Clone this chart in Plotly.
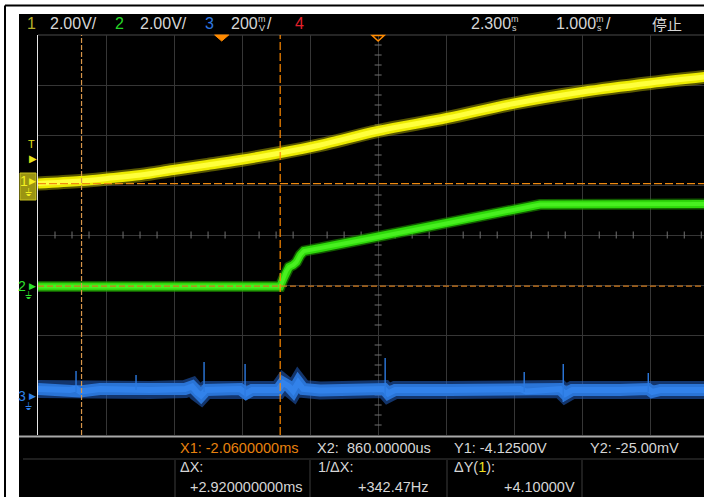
import plotly.graph_objects as go

# ---- acquisition settings -------------------------------------------------
ch_scale = [2.0, 2.0, 0.2]        # volts per division, channels 1..3
ch_pos = [1.04, -1.03, -3.24]     # ground marker, divisions above screen centre
time_scale = 1.0                  # ms per division
time_delay = 2.3                  # ms at screen centre
trigger_time = 0.0                # ms
trigger_level = 1.0               # V on channel 1

# ---- cursors --------------------------------------------------------------
cur_x1, cur_x2 = -2.06, 0.86      # ms
cur_y1, cur_y2 = -4.125, -0.025   # V (channel 1)

# ---- channel 1 (yellow) ---------------------------------------------------
ch1_t = [-2.7, -2.08, -1.68, -1.19, -0.71, -0.21, 0.27, 0.86, 1.45, 2.3,
         3.31, 4.3, 5.3, 6.31, 7.1]
ch1_v = [-0.02, 0.08, 0.18, 0.32, 0.52, 0.72, 0.92, 1.2, 1.52, 2.08,
         2.6, 3.18, 3.64, 4.0, 4.24]

# ---- channel 2 (green) ----------------------------------------------------
ch2_t = [-2.7, 0.86, 0.905, 0.95, 0.99, 1.05, 1.10, 1.155, 1.21, 1.45,
         2.3, 3.3, 4.09, 4.68, 7.1]
ch2_v = [0.0, 0.0, 0.3, 0.62, 0.78, 0.86, 0.98, 1.26, 1.42, 1.54,
         1.98, 2.52, 2.96, 3.28, 3.3]

# ---- channel 3 (blue) -----------------------------------------------------
ch3_t = [-2.7, -2.229, -2.141, -2.082, -1.788, -1.053, -0.538, -0.435, -0.362,
         -0.303, -0.229, 0.124, 0.271, 0.359, 0.447, 0.829, 0.903, 0.991, 1.05,
         1.124, 1.197, 1.447, 2.035, 2.388, 2.447, 2.55, 3.359, 4.388, 4.476,
         4.682, 4.976, 5.05, 5.153, 5.859, 6.271, 6.329, 6.447, 7.1]
ch3_v = [0.032, 0.028, 0.034, 0.022, 0.032, 0.028, 0.032, 0.042, 0.018,
         0.006, 0.028, 0.028, 0.032, 0.014, 0.028, 0.028, 0.056, 0.042, 0.024,
         0.058, 0.032, 0.026, 0.028, 0.032, 0.014, 0.028, 0.028, 0.032, 0.022,
         0.028, 0.032, 0.012, 0.028, 0.028, 0.032, 0.020, 0.028, 0.028]
glitch_t = [-2.141, -1.259, -0.259, 0.344, 2.403, 4.447, 5.021, 6.271]
glitch_hi = [0.104, 0.088, 0.140, 0.132, 0.156, 0.100, 0.132, 0.096]
glitch_lo = [0.020, 0.028, 0.020, -0.004, -0.004, 0.020, -0.020, 0.020]

# ---- screen geometry ------------------------------------------------------
W, H = 704, 497
L, T, B = 38, 35, 62
PW, PH = W - L, H - T - B


def px(x):
    return (x - L) / PW


def py(y):
    return (H - B - y) / PH


def ch_range(i):
    return [(-4 - ch_pos[i]) * ch_scale[i], (4 - ch_pos[i]) * ch_scale[i]]


x_range = [time_delay - 5 * time_scale, time_delay + 4.79 * time_scale]
r1 = ch_range(0)

FONT = "Liberation Sans, Arial, sans-serif"
GRID = "#363636"
TXT = "#d6d6d6"

fig = go.Figure()


def band(t, v, axis, colors, widths, shape="linear"):
    for c, w in zip(colors, widths):
        fig.add_trace(go.Scatter(x=t, y=v, yaxis=axis, mode="lines",
                                 line=dict(color=c, width=w, shape=shape),
                                 hoverinfo="skip", showlegend=False))


# centre-line minor ticks
hx = [x_range[0] + k * time_scale / 4 for k in range(1, 40) if k % 4]
hx = [v for v in hx if v < x_range[1]]
fig.add_trace(go.Scatter(x=hx, y=[(0 - ch_pos[0]) * ch_scale[0]] * len(hx),
                         mode="markers", hoverinfo="skip", showlegend=False,
                         marker=dict(symbol="line-ns", size=5,
                                     line=dict(color="#707070", width=1))))
vy = [r1[0] + k * ch_scale[0] / 5 for k in range(1, 40) if k % 5]
fig.add_trace(go.Scatter(x=[time_delay] * len(vy), y=vy,
                         mode="markers", hoverinfo="skip", showlegend=False,
                         marker=dict(symbol="line-ew", size=5,
                                     line=dict(color="#707070", width=1))))

# traces
band(ch3_t, ch3_v, "y3",
     ["rgba(34,96,196,0.55)", "#2a74d6", "#3282ea"], [18, 12, 6])
gx, gy = [], []
for t, hi, lo in zip(glitch_t, glitch_hi, glitch_lo):
    gx += [t, t, None]
    gy += [hi, lo, None]
fig.add_trace(go.Scatter(x=gx, y=gy, yaxis="y3", mode="lines",
                         line=dict(color="#2c7ae0", width=1.4),
                         hoverinfo="skip", showlegend=False))
band(ch2_t, ch2_v, "y2",
     ["rgba(30,150,0,0.6)", "#2ed80a", "#48f020"], [11, 8, 4])
band(ch1_t, ch1_v, "y",
     ["rgba(160,156,0,0.55)", "#ecea00", "#ffff3c"], [14, 10, 5], "spline")

shapes = []
# instrument frame and black screen
shapes.append(dict(type="rect", xref="paper", yref="paper", layer="below",
                   x0=px(19), x1=px(W + 2), y0=py(14), y1=py(H + 2),
                   fillcolor="black", line=dict(width=0)))
shapes.append(dict(type="line", xref="paper", yref="paper",
                   x0=px(5), x1=px(W + 2), y0=py(5.5), y1=py(5.5),
                   line=dict(color="black", width=2)))
shapes.append(dict(type="line", xref="paper", yref="paper",
                   x0=px(5), x1=px(5), y0=py(5.5), y1=py(H + 2),
                   line=dict(color="black", width=2)))
# graticule borders and readout panel rules
shapes.append(dict(type="line", xref="paper", yref="paper", layer="below",
                   x0=0, x1=1, y0=1, y1=1, line=dict(color="#4a4a4a", width=1)))
shapes.append(dict(type="line", xref="paper", yref="paper",
                   x0=px(19), x1=px(W + 2), y0=py(436.5), y1=py(436.5),
                   line=dict(color="#a8a8a8", width=2)))
shapes.append(dict(type="line", xref="paper", yref="paper",
                   x0=px(23), x1=px(W + 2), y0=py(459), y1=py(459),
                   line=dict(color="#3c3c3c", width=1)))
for sx in [175, 310, 447, 582]:
    shapes.append(dict(type="line", xref="paper", yref="paper",
                       x0=px(sx), x1=px(sx), y0=py(460), y1=py(H + 2),
                       line=dict(color="#3c3c3c", width=1)))

# cursors
shapes.append(dict(type="line", xref="x", yref="paper", x0=cur_x1, x1=cur_x1,
                   y0=0, y1=1, line=dict(color="#d8964a", width=1.2, dash="5px,2px")))
shapes.append(dict(type="line", xref="x", yref="paper", x0=cur_x2, x1=cur_x2,
                   y0=0, y1=1, line=dict(color="#ff8a00", width=1.2, dash="8px,3px")))
shapes.append(dict(type="line", xref="paper", yref="y", x0=0, x1=1,
                   y0=cur_y1, y1=cur_y1,
                   line=dict(color="#d07a1c", width=1.2, dash="6px,3px")))
shapes.append(dict(type="line", xref="paper", yref="y", x0=0, x1=1,
                   y0=cur_y2, y1=cur_y2,
                   line=dict(color="#f08a10", width=1.2, dash="8px,3px")))

# trigger point and delay reference on top edge
shapes.append(dict(type="path", xref="x", xsizemode="pixel", xanchor=trigger_time,
                   yref="paper", ysizemode="pixel", yanchor=1,
                   path="M-7,0 L7,0 L0,-6 Z", fillcolor="#ff8a00",
                   line=dict(color="#ff8a00", width=1)))
shapes.append(dict(type="path", xref="x", xsizemode="pixel", xanchor=time_delay,
                   yref="paper", ysizemode="pixel", yanchor=1,
                   path="M-6,-0.5 L6,-0.5 L0,-6 Z",
                   line=dict(color="#ff8a00", width=1.5)))

# channel 1 ground marker box
shapes.append(dict(type="rect", xref="paper", yref="y", ysizemode="pixel", yanchor=0,
                   x0=px(20), x1=px(36), y0=-17, y1=10,
                   fillcolor="#9a9412", line=dict(color="#c8c21e", width=1)))

ann = []


def text(x, y, s, color=TXT, size=16, xanchor="left", yref="paper", yshift=0,
         family=FONT):
    ann.append(dict(x=px(x), y=(py(y) if yref == "paper" else y), xref="paper",
                    yref=yref, text=s, showarrow=False, xanchor=xanchor,
                    yanchor="middle", yshift=yshift,
                    font=dict(family=family, size=size, color=color)))


def stacked(x, top, bottom, color=TXT):
    text(x, 19.5, top, color, 9)
    text(x + 1, 28, bottom, color, 9)


# header bar
text(25, 24, "1", "#b4ae2a")
text(48, 24, f"{ch_scale[0]:.2f}V/")
text(113, 24, "2", "#26d626")
text(138, 24, f"{ch_scale[1]:.2f}V/")
text(203, 24, "3", "#2f78e0")
text(229, 24, f"{ch_scale[2] * 1000:.0f}")
stacked(256, "m", "V")
text(265, 24, "/")
text(293, 24, "4", "#e4202c")
text(469, 24, f"{time_delay:.3f}")
stacked(509, "m", "s")
text(554, 24, f"{time_scale:.3f}")
stacked(594, "m", "s")
text(604, 24, "/")
text(650, 24, "停止", size=15, family="Noto Sans CJK SC")

# trigger level and channel ground markers
text(31, trigger_level, "T", "#e8e41a", 11, "center", "y", 14)
text(33, trigger_level, "▶", "#e8e41a", 10, "center", "y")
text(24, 0, "1", "#f4f020", 14, "center", "y", 2)
text(32, 0, "▶", "#f4f020", 9, "center", "y", 2)
text(28, 0, "⏚", "#f4f020", 10, "center", "y", -9)
text(22, 0, "2", "#2ee02e", 14, "center", "y2", 1)
text(32, 0, "▶", "#2ee02e", 9, "center", "y2", 1)
text(28, 0, "⏚", "#2ee02e", 10, "center", "y2", -9)
text(22, 0, "3", "#2f80e8", 14, "center", "y3", 1)
text(32, 0, "▶", "#2f80e8", 9, "center", "y3", 1)
text(28, 0, "⏚", "#2f80e8", 10, "center", "y3", -9)

# cursor readouts
dx = cur_x2 - cur_x1
dy = cur_y2 - cur_y1
BS = 14.5
text(178, 448, f"X1: {cur_x1:.7f}ms", "#e8820e", BS)
text(315, 448, "X2:", TXT, BS)
text(345, 448, f"{cur_x2 * 1000:.5f}us", TXT, BS)
text(452, 448, f"Y1: {cur_y1:.5f}V", TXT, BS)
text(588, 448, f"Y2: {cur_y2 * 1000:.2f}mV", TXT, BS)
text(178, 467, "ΔX:", TXT, BS)
text(304, 487, f"{dx:+.9f}ms", TXT, BS, "right")
text(316, 467, "1/ΔX:", TXT, BS)
text(431, 487, f"{1000 / dx:+.2f}Hz", TXT, BS, "right")
text(452, 467, "ΔY(<span style='color:#f0e020'>1</span>):", TXT, BS)
text(577, 487, f"{dy:+.5f}V", TXT, BS, "right")

axis_off = dict(visible=False, fixedrange=True, showgrid=False, zeroline=False)
fig.update_layout(
    width=W, height=H,
    margin=dict(l=L, r=0, t=T, b=B, autoexpand=False),
    paper_bgcolor="white", plot_bgcolor="rgba(0,0,0,0)",
    showlegend=False,
    xaxis=dict(range=x_range, showgrid=True, gridcolor=GRID, gridwidth=1,
               tick0=x_range[0], dtick=time_scale, showticklabels=False,
               ticks="", zeroline=False, showline=False, fixedrange=True),
    yaxis=dict(range=r1, showgrid=True, gridcolor=GRID, gridwidth=1,
               tick0=r1[0], dtick=ch_scale[0], showticklabels=False, ticks="",
               zeroline=False, showline=True, linecolor="#e6e6e6", linewidth=1,
               fixedrange=True),
    yaxis2=dict(range=ch_range(1), overlaying="y", **axis_off),
    yaxis3=dict(range=ch_range(2), overlaying="y", **axis_off),
    shapes=shapes,
    annotations=ann,
)

fig.write_html("out.html")
